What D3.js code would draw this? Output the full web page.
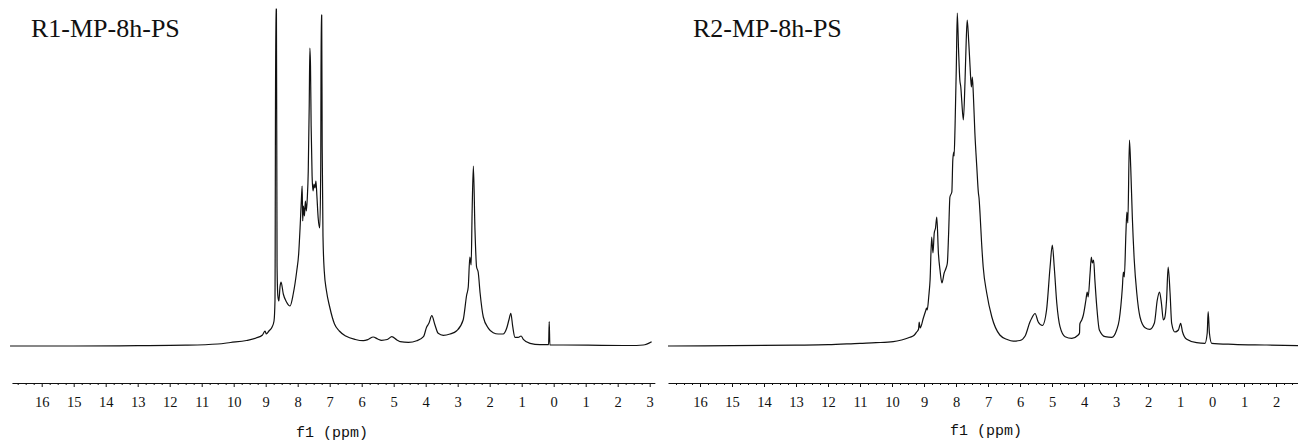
<!DOCTYPE html>
<html>
<head>
<meta charset="utf-8">
<script src="https://cdn.jsdelivr.net/npm/d3@7"></script>
<style>
  html, body { margin: 0; padding: 0; background: #fff; }
  svg { display: block; }
</style>
</head>
<body>
<svg id="chart" width="1298" height="444"></svg>
<script>
// Sample names
const titles = ["R1-MP-8h-PS", "R2-MP-8h-PS"];

// Chemical-shift axis: integer ticks and their printed labels
const majorTicks = [16, 15, 14, 13, 12, 11, 10, 9, 8, 7, 6, 5, 4, 3, 2, 1, 0, -1, -2, -3];
const tickLabels = ["16", "15", "14", "13", "12", "11", "10", "9", "8", "7", "6", "5", "4", "3", "2", "1", "0", "1", "2", "3"];
const axisTitle = "f1 (ppm)";

// R1 spectrum: chemical shift (ppm) and signal height (arbitrary units)
const r1Shift = [16.99, 15.0, 13.0, 11.5, 10.5, 10.1, 9.6, 9.3, 9.1, 9.02, 8.98, 8.9, 8.8, 8.74, 8.71,
  8.685, 8.665, 8.645, 8.62, 8.59, 8.55, 8.52, 8.45, 8.35, 8.24, 8.14, 8.03, 7.97, 7.92, 7.88,
  7.86, 7.845, 7.82, 7.79, 7.76, 7.73, 7.70, 7.67, 7.64, 7.62, 7.60, 7.58, 7.55, 7.52, 7.49,
  7.46, 7.43, 7.40, 7.36, 7.31, 7.28, 7.265, 7.25, 7.235, 7.21, 7.17, 7.1, 7.0, 6.85, 6.7,
  6.5, 6.2, 5.95, 5.8, 5.64, 5.5, 5.38, 5.2, 5.06, 4.9, 4.8, 4.54, 4.28, 4.07, 3.97,
  3.90, 3.81, 3.71, 3.61, 3.45, 3.24, 3.03, 2.83, 2.72, 2.67, 2.62, 2.58, 2.55, 2.51, 2.46,
  2.41, 2.36, 2.30, 2.20, 2.04, 1.89, 1.73, 1.58, 1.47, 1.40, 1.34, 1.28, 1.21, 1.11, 1.02,
  0.95, 0.74, 0.43, 0.16, 0.14, 0.12, -0.30, -1.5, -2.38, -2.80, -3.06];
const r1Signal = [0, 0, 0.3, 0.8, 2, 3.5, 5.5, 8, 11, 15, 12, 15, 19, 25, 45,
  337, 337, 80, 50, 45, 60, 64, 52, 44, 40, 52, 75, 92, 122, 150,
  160, 125, 140, 130, 145, 135, 148, 175, 240, 298, 280, 220, 170, 155, 162,
  158, 165, 150, 128, 118, 180, 331, 331, 200, 110, 75, 55, 39, 22, 15,
  10, 6.5, 5.3, 6.5, 9, 7, 5.7, 6.5, 9.3, 6, 4.3, 3.7, 5.3, 9.3, 19,
  22.7, 30.3, 21, 12.7, 10.7, 12, 15.3, 26, 51, 59, 89, 81, 133, 180, 116,
  79, 74, 53, 29, 17.7, 13.3, 12, 12, 17.7, 26, 32.7, 19.3, 8.7, 8.7, 10,
  6.7, 2.7, 1.3, 1.3, 24.3, 1, 1, 0.7, 0.5, 1, 4.3];

// R2 spectrum: chemical shift (ppm) and signal height (arbitrary units)
const r2Shift = [17.0, 15.0, 13.0, 12.0, 11.0, 10.5, 9.96, 9.7, 9.44, 9.3, 9.23, 9.17, 9.15, 9.12, 9.02,
  8.95, 8.92, 8.9, 8.85, 8.81, 8.76, 8.72, 8.68, 8.64, 8.60, 8.55, 8.50, 8.44, 8.37, 8.31,
  8.27, 8.23, 8.19, 8.13, 8.10, 8.07, 8.06, 8.03, 7.99, 7.96, 7.92, 7.88, 7.85, 7.82, 7.77,
  7.72, 7.68, 7.65, 7.60, 7.56, 7.52, 7.49, 7.46, 7.41, 7.35, 7.30, 7.28, 7.25, 7.20, 7.15,
  7.04, 6.88, 6.63, 6.40, 6.21, 6.0, 5.84, 5.69, 5.63, 5.53, 5.43, 5.30, 5.17, 5.06, 4.99,
  4.93, 4.85, 4.75, 4.59, 4.38, 4.18, 4.14, 4.13, 4.07, 4.02, 3.94, 3.90, 3.87, 3.81, 3.77,
  3.74, 3.70, 3.66, 3.60, 3.52, 3.34, 3.13, 2.98, 2.90, 2.80, 2.77, 2.74, 2.69, 2.66, 2.63,
  2.58, 2.54, 2.49, 2.43, 2.35, 2.25, 2.09, 1.94, 1.80, 1.71, 1.64, 1.58, 1.52, 1.48, 1.42,
  1.37, 1.31, 1.26, 1.16, 1.05, 0.98, 0.92, 0.79, 0.48, 0.22, 0.15, 0.12, 0.08, 0.01, -0.67,
  -1.71, -2.69];
const r2Signal = [0, 0.3, 0.8, 1.3, 2.7, 3.3, 4.3, 6, 8.7, 11, 14, 17, 24, 18, 28,
  35, 38, 36, 50, 66, 109, 93, 113, 118, 129, 93, 76, 63, 73, 78,
  83, 113, 149, 154, 186, 194, 190, 219, 279, 333, 296, 266, 259, 245, 226,
  263, 306, 326, 303, 279, 259, 269, 253, 213, 179, 153, 148, 133, 103, 79,
  53, 29, 11, 6.5, 4.8, 5.5, 10, 24, 28, 32.5, 24, 20.5, 36, 79, 101,
  79, 42.7, 19.3, 9.3, 7.7, 11, 13, 22, 26, 31, 46, 54, 49, 72.7, 89,
  83, 86, 66, 39, 16, 9.3, 8.7, 16, 26, 59, 74, 69, 113, 134, 123,
  206, 179, 129, 86, 52.7, 29, 18.3, 16.7, 23, 46, 54, 42.7, 26, 27.7, 46,
  79, 52.7, 22.7, 14, 16, 22.7, 14, 6.7, 3.3, 2.7, 12.7, 34.3, 12.7, 2.7, 1.7,
  1, 0.3];

const svg = d3.select("#chart");
const ink = "#111";

// Shared intensity scale (baseline at the bottom of the plot area)
const y = d3.scaleLinear().domain([0, 338]).range([346, 8]);
const axisY = 383;

const panels = [
  {
    title: titles[0], shift: r1Shift, signal: r1Signal,
    x: d3.scaleLinear().domain([16.93, -3.16]).range([553.7 - 32 * 16.93, 553.7 + 32 * 3.16]),
    titleX: 31, labelX: 332, labelY: 437
  },
  {
    title: titles[1], shift: r2Shift, signal: r2Signal,
    x: d3.scaleLinear().domain([17.0, -2.7]).range([1212 - 32 * 17.0, 1212 + 32 * 2.7]),
    titleX: 693, labelX: 986, labelY: 435
  }
];

panels.forEach((p) => {
  const g = svg.append("g");
  const [dHi, dLo] = p.x.domain();

  // Spectrum trace
  const pts = p.shift.map((s, k) => [s, p.signal[k]]);
  const line = d3.line()
    .x(d => p.x(d[0]))
    .y(d => y(d[1]))
    .curve(d3.curveMonotoneX);
  g.append("path")
    .datum(pts)
    .attr("d", line)
    .attr("fill", "none")
    .attr("stroke", ink)
    .attr("stroke-width", 1.2)
    .attr("stroke-linejoin", "round");

  // Minor ticks every 0.25 ppm
  const minor = d3.range(Math.floor(dHi * 4) / 4, dLo, -0.25)
    .filter(v => Math.abs(v - Math.round(v)) > 1e-6);
  const axG = g.append("g").attr("transform", `translate(0,${axisY})`);
  axG.append("g")
    .call(d3.axisBottom(p.x).tickValues(minor).tickSize(2).tickSizeOuter(0).tickFormat(""))
    .call(a => a.select(".domain").remove())
    .call(a => a.selectAll("line").attr("stroke", ink));

  // Major ticks with labels (only those inside the panel's range)
  const shown = majorTicks.map((v, k) => ({ v, label: tickLabels[k] }))
    .filter(t => t.v <= dHi && t.v >= dLo - 0.01);
  axG.append("g")
    .call(d3.axisBottom(p.x)
      .tickValues(shown.map(t => t.v))
      .tickSize(4)
      .tickSizeOuter(0)
      .tickPadding(10)
      .tickFormat((d, k) => shown[k].label))
    .call(a => a.select(".domain").attr("stroke", ink).attr("stroke-width", 1.1))
    .call(a => a.selectAll("line").attr("stroke", ink))
    .call(a => a.selectAll("text")
      .attr("fill", ink)
      .style("font-family", "'Liberation Serif', 'Times New Roman', serif")
      .style("font-size", "14.5px"));

  // Axis title
  g.append("text")
    .attr("x", p.labelX).attr("y", p.labelY)
    .attr("text-anchor", "middle")
    .attr("fill", ink)
    .style("font-family", "'Liberation Mono', 'DejaVu Sans Mono', monospace")
    .style("font-size", "15px")
    .text(axisTitle);

  // Sample title
  g.append("text")
    .attr("x", p.titleX).attr("y", 37)
    .attr("fill", ink)
    .style("font-family", "'Liberation Serif', 'Times New Roman', serif")
    .style("font-size", "26px")
    .text(p.title);
});
</script>
</body>
</html>
